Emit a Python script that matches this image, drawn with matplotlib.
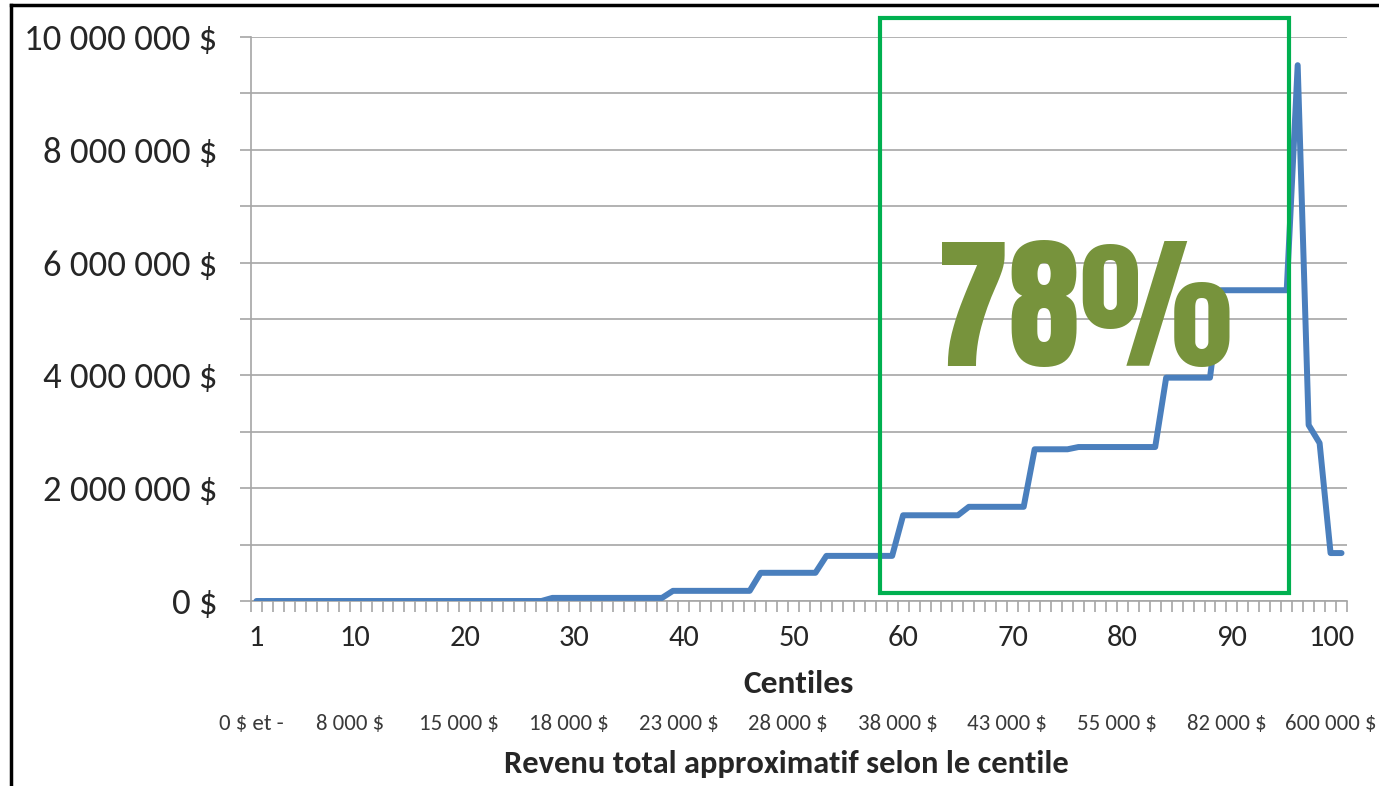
import matplotlib
matplotlib.use("Agg")
import matplotlib.pyplot as plt
from matplotlib.lines import Line2D
from matplotlib.patches import Rectangle
from matplotlib.transforms import ScaledTranslation

plt.rcParams['font.family'] = ['Carlito', 'Lato', 'DejaVu Sans']

# centiles 1..100 and approximate value per centile ($)
centiles = list(range(1, 101))
values = [
    0, 0, 0, 0, 0, 0, 0, 0, 0, 0,
    0, 0, 0, 0, 0, 0, 0, 0, 0, 0,
    0, 0, 0, 0, 0, 0, 0, 55000, 55000, 55000,
    55000, 55000, 55000, 55000, 55000, 55000, 55000, 55000, 180000, 180000,
    180000, 180000, 180000, 180000, 180000, 180000, 500000, 500000, 500000, 500000,
    500000, 500000, 800000, 800000, 800000, 800000, 800000, 800000, 800000, 1520000,
    1520000, 1520000, 1520000, 1520000, 1520000, 1670000, 1670000, 1670000, 1670000, 1670000,
    1670000, 2690000, 2690000, 2690000, 2690000, 2730000, 2730000, 2730000, 2730000, 2730000,
    2730000, 2730000, 2730000, 3960000, 3960000, 3960000, 3960000, 3960000, 5510000, 5510000,
    5510000, 5510000, 5510000, 5510000, 5510000, 9500000, 3120000, 2800000, 850000, 850000,
]

x_ticks = [1, 10, 20, 30, 40, 50, 60, 70, 80, 90, 100]
y_ticks = [0, 2000000, 4000000, 6000000, 8000000, 10000000]
y_labels = ["0 $", "2 000 000 $", "4 000 000 $", "6 000 000 $", "8 000 000 $", "10 000 000 $"]
income_labels = ["0 $ et -", "8 000 $", "15 000 $", "18 000 $", "23 000 $", "28 000 $",
                 "38 000 $", "43 000 $", "55 000 $", "82 000 $", "600 000 $"]

grid_c = "#a6a6a6"
text_c = "#262626"

fig = plt.figure(figsize=(13.79, 7.86), dpi=100)
ax = fig.add_axes([251 / 1379, 1 - 601 / 786, (1347 - 251) / 1379, (601 - 37) / 786])

ax.plot(centiles, values, color="#4a7fbd", lw=4.3, solid_capstyle="round",
        solid_joinstyle="round", zorder=3)

ax.set_xlim(0.5, 100.5)
ax.set_ylim(0, 10000000)

ax.set_yticks(y_ticks)
ax.set_yticklabels(y_labels, fontsize=26.5, color=text_c)
ax.set_yticks(range(0, 10000001, 1000000), minor=True)
ax.tick_params(axis="y", which="both", length=8, width=1.2, color=grid_c, pad=16)
ax.grid(axis="y", which="both", color=grid_c, lw=1.2, zorder=1)

ax.set_xticks(x_ticks)
ax.set_xticklabels([str(t) for t in x_ticks], fontsize=22, color=text_c)
ax.set_xticks([c + 0.5 for c in range(0, 101)], minor=True)
ax.tick_params(axis="x", which="major", length=0, pad=17)
ax.tick_params(axis="x", which="minor", length=8, width=1.2, color=grid_c)
# last label sits a little left in the original
last = ax.get_xticklabels()[-1]
last.set_transform(last.get_transform() + ScaledTranslation(-0.1, 0, fig.dpi_scale_trans))

for s in ["top", "right"]:
    ax.spines[s].set_visible(False)
for s in ["left", "bottom"]:
    ax.spines[s].set_color(grid_c)
    ax.spines[s].set_linewidth(1.2)

ax.set_xlabel("Centiles", fontsize=24, fontweight="bold", color=text_c, labelpad=14)

# income row under the axis
for i, lab in enumerate(income_labels):
    xpos = x_ticks[i] - 0.5 if i < len(income_labels) - 1 else 99.0
    ax.text(xpos, -0.218, lab, transform=ax.get_xaxis_transform(), ha="center",
            va="center", fontsize=16.5, color="#3a3a3a")
fig.text(786 / 1379, 1 - 764 / 786, "Revenu total approximatif selon le centile",
         ha="center", va="center", fontsize=23.4, fontweight="bold", color=text_c)

# highlight box
box = Rectangle((880 / 1379, 1 - 593 / 786), (1289 - 880) / 1379, (593 - 18) / 786,
                transform=fig.transFigure, fill=False, ec="#00b050", lw=3, zorder=5)
fig.patches.append(box)
fig.text(1085 / 1379, 1 - 313 / 786, "78%", ha="center", va="center",
         fontsize=104, color="#77933c",
         family=["Anton", "Oswald", "DejaVu Sans"], zorder=6)

# outer frame (left and top)
fig.add_artist(Line2D([11 / 1379, 11 / 1379], [0, 1 - 5 / 786], transform=fig.transFigure,
                      color="black", lw=2.5))
fig.add_artist(Line2D([11 / 1379, 1], [1 - 5 / 786, 1 - 5 / 786], transform=fig.transFigure,
                      color="black", lw=2.5))

fig.savefig("out.png", dpi=100)
